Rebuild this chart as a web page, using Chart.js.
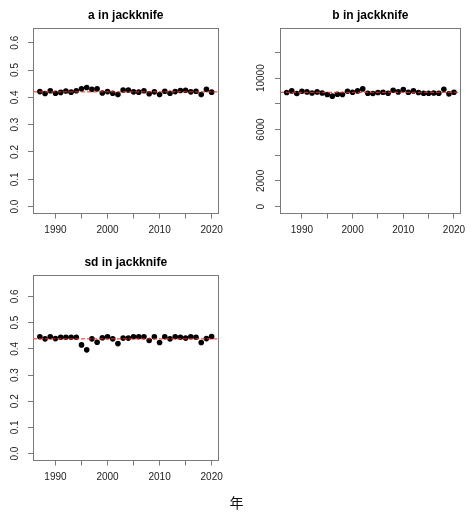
<!DOCTYPE html>
<html><head><meta charset="utf-8">
<script src="https://cdn.jsdelivr.net/npm/chart.js@4/dist/chart.umd.min.js"></script>
<style>
html,body{margin:0;padding:0;background:#fff;width:471px;height:512px;overflow:hidden;position:relative;}
canvas{position:absolute;}
#xlab{position:absolute;left:0;width:473px;top:495px;text-align:center;font:14px/14px "Noto Sans CJK SC";color:#111;}
</style></head><body>
<canvas id="ca" width="235" height="250" style="left:0;top:0;width:235px;height:250px"></canvas>
<canvas id="cb" width="236" height="250" style="left:235px;top:0;width:236px;height:250px"></canvas>
<canvas id="cc" width="235" height="250" style="left:0;top:247px;width:235px;height:250px"></canvas>
<div id="xlab">年</div>
<script>
// ---- data ----
const years = [1987,1988,1989,1990,1991,1992,1993,1994,1995,1996,1997,1998,1999,2000,2001,2002,2003,2004,2005,2006,2007,2008,2009,2010,2011,2012,2013,2014,2015,2016,2017,2018,2019,2020];
const aValues = [0.421,0.414,0.424,0.415,0.418,0.423,0.419,0.424,0.431,0.436,0.429,0.431,0.416,0.421,0.415,0.410,0.427,0.427,0.420,0.419,0.424,0.413,0.420,0.410,0.422,0.415,0.421,0.425,0.426,0.420,0.422,0.410,0.429,0.419];
const bValues = [8880,9010,8800,8980,8930,8850,8930,8850,8725,8600,8750,8725,8980,8905,9010,9165,8830,8800,8880,8905,8830,9060,8930,9110,8905,9010,8880,8830,8830,8850,8830,9140,8780,8905];
const sdValues = [0.446,0.438,0.446,0.439,0.444,0.444,0.444,0.444,0.415,0.396,0.438,0.425,0.442,0.446,0.438,0.420,0.441,0.441,0.446,0.446,0.446,0.432,0.446,0.424,0.446,0.438,0.446,0.444,0.441,0.446,0.444,0.424,0.439,0.447];
const aMean = 0.42;
const bMean = 8900;
const sdMean = 0.438;
const aYlim = [0, 0.63];
const bYlim = [0, 13400];
const sdYlim = [0, 0.657];
const xTicks = [1990,1995,2000,2005,2010,2015,2020];
const xTickLabels = [1990,2000,2010,2020];
const yTicksA = [0,0.1,0.2,0.3,0.4,0.5,0.6];
const yTickLabelsA = [0,0.1,0.2,0.3,0.4,0.5,0.6];
const yTicksB = [0,2000,4000,6000,8000,10000,12000];
const yTickLabelsB = [0,2000,6000,10000];
const titles = ['a in jackknife','b in jackknife','sd in jackknife'];

// ---- helpers ----
const FONT = 'Liberation Sans, Arial, sans-serif';
const xRange = [Math.min(...years), Math.max(...years)];
const xPad = (xRange[1]-xRange[0])*0.04;
const xMin = xRange[0]-xPad, xMax = xRange[1]+xPad;

const boxPlugin = {
  id:'box',
  afterDatasetsDraw(chart){
    const {ctx, chartArea:a} = chart;
    ctx.save();
    ctx.strokeStyle = '#7a7a7a';
    ctx.lineWidth = 1;
    const l = Math.round(a.left)+0.5, t = Math.round(a.top)+0.5;
    const r = Math.round(a.right)-0.5, b = Math.round(a.bottom)-0.5;
    ctx.strokeRect(l, t, r-l, b-t);
    ctx.restore();
  }
};

function makeChart(id, title, values, mean, ylim, yTicks, yLabels, fmt, yLabelPad, yAxisWidth, rightPad){
  const yPad = (ylim[1]-ylim[0])*0.04;
  return new Chart(document.getElementById(id), {
    type:'scatter',
    data:{datasets:[
      {type:'line', data:[{x:xMin,y:mean},{x:xMax,y:mean}], borderColor:'#ff2020', borderWidth:1, borderDash:[4,2], pointRadius:0, fill:false, order:0},
      {data:years.map((yr,i)=>({x:yr,y:values[i]})), backgroundColor:'#000', borderColor:'#000', borderWidth:0, pointRadius:2.8, pointHoverRadius:2.8, order:1}
    ]},
    options:{
      responsive:false, animation:false, devicePixelRatio:1, events:[],
      layout:{padding:{left:0,right:rightPad,top:0,bottom:0}},
      plugins:{
        legend:{display:false}, tooltip:{enabled:false},
        title:{display:true, text:title, fullSize:false, color:'#000',
          font:{family:FONT, size:12, weight:'bold'}, padding:{top:8.8,bottom:4.4}}
      },
      scales:{
        x:{type:'linear', min:xMin, max:xMax,
          afterBuildTicks:s=>{ s.ticks = xTicks.map(v=>({value:v})); },
          afterFit:s=>{ s.height = 36.5; },
          grid:{display:true, drawOnChartArea:false, drawTicks:true, tickLength:5, tickColor:'#7a7a7a', color:'#7a7a7a'},
          border:{display:false},
          ticks:{autoSkip:false, minRotation:0, maxRotation:0, padding:5.5, color:'#222',
            font:{family:FONT, size:10}, callback:v=> xTickLabels.includes(v) ? String(v) : ''}
        },
        y:{type:'linear', min:ylim[0]-yPad, max:ylim[1]+yPad,
          afterBuildTicks:s=>{ s.ticks = yTicks.map(v=>({value:v})); },
          afterFit:s=>{ s.width = yAxisWidth; },
          grid:{display:true, drawOnChartArea:false, drawTicks:true, tickLength:5, tickColor:'#7a7a7a', color:'#7a7a7a'},
          border:{display:false},
          ticks:{autoSkip:false, minRotation:90, maxRotation:90, crossAlign:'center', padding:yLabelPad, color:'#222',
            font:{family:FONT, size:10}, callback:v=> yLabels.includes(v) ? fmt(v) : ''}
        }
      }
    },
    plugins:[boxPlugin]
  });
}

makeChart('ca', titles[0], aValues, aMean, aYlim, yTicksA, yTickLabelsA, v=>v.toFixed(1), 6, 33, 16.5);
makeChart('cb', titles[1], bValues, bMean, bYlim, yTicksB, yTickLabelsB, v=>String(v), -0.6, 45, 6);
makeChart('cc', titles[2], sdValues, sdMean, sdYlim, yTicksA, yTickLabelsA, v=>v.toFixed(1), 6, 33, 16.5);
</script>
</body></html>
